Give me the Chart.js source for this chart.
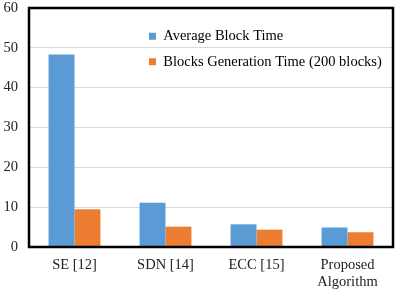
<!DOCTYPE html>
<html>
<head>
<meta charset="utf-8">
<script src="https://cdn.jsdelivr.net/npm/chart.js@4"></script>
<style>
  html, body { margin: 0; padding: 0; background: #fff; }
  #wrap { width: 397px; height: 292px; }
</style>
</head>
<body>
<div id="wrap"><canvas id="block-chart"></canvas></div>
<script>
const categories = ['SE [12]', 'SDN [14]', 'ECC [15]', ['Proposed', 'Algorithm']];
const avgBlockTime = [48.3, 11.1, 5.7, 4.9];
const genTime200 = [9.5, 5.1, 4.35, 3.7];
const yTicks = [0, 10, 20, 30, 40, 50, 60];

const serif = "'Liberation Serif', 'Times New Roman', serif";

// black frame round the plot area
const frame = {
  id: 'frame',
  afterDraw(chart) {
    const a = chart.chartArea;
    const ctx = chart.ctx;
    ctx.save();
    ctx.strokeStyle = '#000';
    ctx.lineWidth = 2.5;
    ctx.strokeRect(a.left, a.top, a.right - a.left, a.bottom - a.top);
    ctx.restore();
  }
};

// move the legend into the upper right of the plot area
const legendSpot = {
  id: 'legendSpot',
  afterLayout(chart) {
    const lg = chart.legend;
    lg.left = 138;
    lg.top = 18;
  }
};

new Chart(document.getElementById('block-chart').getContext('2d'), {
  type: 'bar',
  data: {
    labels: categories,
    datasets: [{
      label: 'Average Block Time',
      data: avgBlockTime,
      backgroundColor: '#5B9BD5'
    }, {
      label: 'Blocks Generation Time (200 blocks)',
      data: genTime200,
      backgroundColor: '#ED7D31'
    }]
  },
  options: {
    responsive: true,
    maintainAspectRatio: false,
    animation: false,
    layout: { padding: { left: 3, right: 4, top: 0, bottom: 1 } },
    categoryPercentage: 0.57,
    barPercentage: 1,
    plugins: {
      tooltip: { enabled: false },
      legend: {
        position: 'chartArea',
        fullSize: false,
        align: 'start',
        labels: {
          boxWidth: 7,
          boxHeight: 7,
          padding: 11,
          color: '#000',
          font: { family: serif, size: 14.5 }
        }
      }
    },
    scales: {
      x: {
        grid: { display: false, drawTicks: false },
        border: { display: false },
        afterFit(axis) { axis.height = 44; },
        ticks: {
          padding: 9,
          color: '#222',
          maxRotation: 0,
          font: { family: serif, size: 14.5 }
        }
      },
      y: {
        min: 0,
        max: 60,
        afterBuildTicks(axis) { axis.ticks = yTicks.map(v => ({ value: v })); },
        afterFit(axis) {
          axis.width = 26;
          axis.paddingTop = 8;
          axis.paddingBottom = 0;
        },
        grid: { color: '#d9d9d9', lineWidth: 1, drawTicks: false },
        border: { display: false },
        ticks: {
          padding: 11,
          color: '#222',
          font: { family: serif, size: 14.5 }
        }
      }
    }
  },
  plugins: [frame, legendSpot]
});
</script>
</body>
</html>
